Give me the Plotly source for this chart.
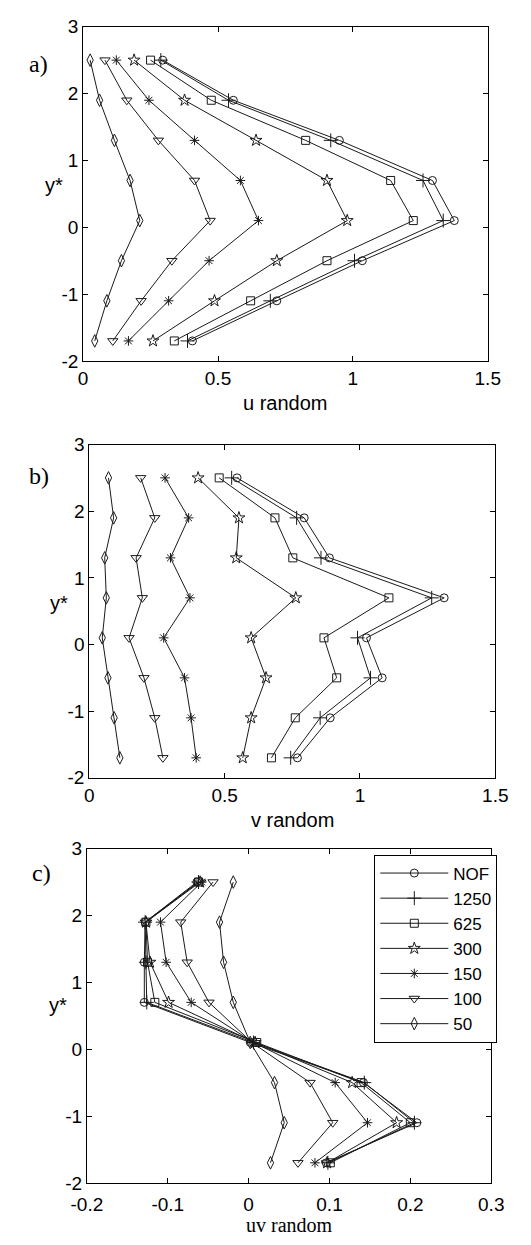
import plotly.graph_objects as go

# ---------------- data ----------------
y_levels = [2.5, 1.9, 1.3, 0.7, 0.1, -0.5, -1.1, -1.7]
series_names = ["NOF", "1250", "625", "300", "150", "100", "50"]

u_random = {
    "NOF":  [0.295, 0.557, 0.950, 1.295, 1.376, 1.035, 0.718, 0.405],
    "1250": [0.288, 0.539, 0.918, 1.260, 1.335, 1.006, 0.694, 0.387],
    "625":  [0.250, 0.475, 0.825, 1.140, 1.224, 0.904, 0.621, 0.338],
    "300":  [0.189, 0.376, 0.641, 0.904, 0.979, 0.718, 0.487, 0.259],
    "150":  [0.123, 0.244, 0.413, 0.583, 0.650, 0.467, 0.317, 0.168],
    "100":  [0.081, 0.162, 0.279, 0.413, 0.471, 0.329, 0.215, 0.110],
    "50":   [0.026, 0.061, 0.116, 0.174, 0.210, 0.142, 0.088, 0.043],
}
v_random = {
    "NOF":  [0.546, 0.794, 0.887, 1.311, 1.024, 1.082, 0.890, 0.769],
    "1250": [0.526, 0.766, 0.856, 1.265, 0.991, 1.039, 0.853, 0.744],
    "625":  [0.480, 0.686, 0.752, 1.107, 0.867, 0.914, 0.761, 0.673],
    "300":  [0.402, 0.553, 0.543, 0.763, 0.598, 0.653, 0.598, 0.567],
    "150":  [0.280, 0.367, 0.300, 0.372, 0.275, 0.352, 0.376, 0.395],
    "100":  [0.190, 0.242, 0.173, 0.196, 0.147, 0.202, 0.242, 0.272],
    "50":   [0.071, 0.090, 0.057, 0.063, 0.048, 0.069, 0.092, 0.113],
}
uv_random = {
    "NOF":  [-0.064, -0.128, -0.129, -0.129, 0.002, 0.142, 0.208, 0.096],
    "1250": [-0.062, -0.128, -0.127, -0.126, 0.006, 0.143, 0.205, 0.098],
    "625":  [-0.062, -0.127, -0.125, -0.116, 0.010, 0.139, 0.200, 0.101],
    "300":  [-0.060, -0.127, -0.122, -0.099, 0.008, 0.128, 0.183, 0.097],
    "150":  [-0.058, -0.109, -0.102, -0.071, 0.006, 0.107, 0.147, 0.082],
    "100":  [-0.044, -0.084, -0.076, -0.049, 0.004, 0.076, 0.104, 0.061],
    "50":   [-0.019, -0.036, -0.031, -0.019, 0.002, 0.032, 0.044, 0.027],
}

y_ticks = [3, 2, 1, 0, -1, -2]
y_ticklabels = ["3", "2", "1", "0", "-1", "-2"]
x_ticks_ab = [0, 0.5, 1, 1.5]
x_ticklabels_ab = ["0", "0.5", "1", "1.5"]
x_ticks_c = [-0.2, -0.1, 0, 0.1, 0.2, 0.3]
x_ticklabels_c = ["-0.2", "-0.1", "0", "0.1", "0.2", "0.3"]

# ---------------- styles ----------------
W, H = 531, 1245
symbols = {
    "NOF": ("circle-open", 8),
    "1250": ("cross-thin-open", 10),
    "625": ("square-open", 8),
    "300": ("star-open", 9),
    "150": ("asterisk-open", 8),
    "100": ("triangle-down-open", 9),
    "50": ("diamond-tall-open", 9),
}
SANS = "Liberation Sans, Arial, sans-serif"
SERIF = "Liberation Serif, Times New Roman, serif"
INK = "#1a1a1a"

fig = go.Figure()

panels = [
    (u_random, "x", "y", False),
    (v_random, "x2", "y2", False),
    (uv_random, "x3", "y3", True),
]
for data, xa, ya, legend in panels:
    for name in series_names:
        sym, sz = symbols[name]
        fig.add_trace(go.Scatter(
            x=data[name], y=y_levels, xaxis=xa, yaxis=ya,
            mode="lines+markers", name=name, showlegend=legend,
            line=dict(color=INK, width=1),
            marker=dict(symbol=sym, size=sz, color=INK,
                        line=dict(color=INK, width=1)),
        ))

def px_x(p):
    return p / W

def px_y(p):
    return 1 - p / H

common_axis = dict(showline=True, linecolor="black", linewidth=1, mirror="ticks",
                   ticks="inside", ticklen=5, tickcolor="black", showgrid=False,
                   zeroline=False, tickfont=dict(family=SANS, size=19, color="black"))

# panel pixel boxes: (left, right, top, bottom)
box_a = (71, 499, 17, 357)
box_b = (77.5, 507, 442, 781)
box_c = (75, 502.7, 853, 1193)

def xdom(b):
    return [px_x(b[0]), px_x(b[1])]

def ydom(b):
    return [px_y(b[3]), px_y(b[2])]

fig.update_layout(
    width=W, height=H, margin=dict(l=0, r=0, t=0, b=0),
    paper_bgcolor="white", plot_bgcolor="white",
    xaxis=dict(domain=xdom(box_a), range=[0, 1.5], anchor="y",
               tickvals=x_ticks_ab, ticktext=x_ticklabels_ab, **common_axis),
    yaxis=dict(domain=ydom(box_a), range=[-2, 3], anchor="x",
               tickvals=y_ticks, ticktext=y_ticklabels, **common_axis),
    xaxis2=dict(domain=xdom(box_b), range=[0, 1.5], anchor="y2",
                tickvals=x_ticks_ab, ticktext=x_ticklabels_ab, **common_axis),
    yaxis2=dict(domain=ydom(box_b), range=[-2, 3], anchor="x2",
                tickvals=y_ticks, ticktext=y_ticklabels, **common_axis),
    xaxis3=dict(domain=xdom(box_c), range=[-0.2, 0.3], anchor="y3",
                tickvals=x_ticks_c, ticktext=x_ticklabels_c,
                ticklabelstandoff=4, **common_axis),
    yaxis3=dict(domain=ydom(box_c), range=[-2, 3], anchor="x3",
                tickvals=y_ticks, ticktext=y_ticklabels, **common_axis),
    showlegend=True,
    legend=dict(x=px_x(379), y=px_y(859), xanchor="left", yanchor="top",
                bgcolor="white", bordercolor="black", borderwidth=1,
                font=dict(family=SANS, size=17, color="black"),
                itemwidth=68, tracegroupgap=0),
)

annotations = [
    # axis titles
    dict(text="u random", x=px_x(285), y=px_y(400), font=dict(family=SANS, size=20)),
    dict(text="v random", x=px_x(292), y=px_y(824), font=dict(family=SANS, size=20)),
    dict(text="uv random", x=px_x(289), y=px_y(1236), font=dict(family=SERIF, size=20)),
    # y labels
    dict(text="y*", x=px_x(40), y=px_y(178), font=dict(family=SANS, size=20)),
    dict(text="y*", x=px_x(46), y=px_y(603), font=dict(family=SANS, size=20)),
    dict(text="y*", x=px_x(44), y=px_y(1012), font=dict(family=SANS, size=20)),
    # panel labels
    dict(text="a)", x=px_x(24), y=px_y(55), font=dict(family=SERIF, size=24)),
    dict(text="b)", x=px_x(24), y=px_y(474), font=dict(family=SERIF, size=24)),
    dict(text="c)", x=px_x(27), y=px_y(878), font=dict(family=SERIF, size=24)),
]
for a in annotations:
    a.update(xref="paper", yref="paper", showarrow=False,
             xanchor="center", yanchor="middle")
    a["font"]["color"] = "black"
fig.update_layout(annotations=annotations)

fig.write_html("out.html", config={"displayModeBar": False},
               post_script="document.body.style.margin='0';document.body.style.overflow='hidden';")
